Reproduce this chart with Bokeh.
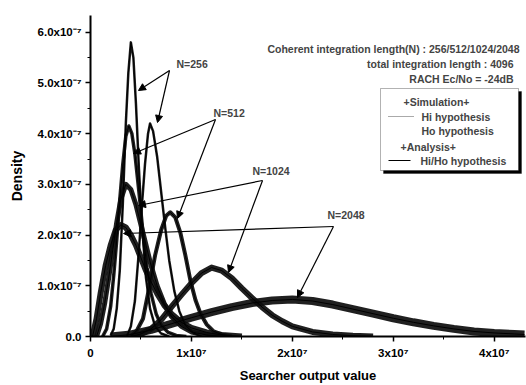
import numpy as np
from bokeh.plotting import figure
from bokeh.models import (Range1d, FixedTicker, CustomJSTickFormatter, Label,
                          Arrow, NormalHead, BoxAnnotation, ColumnDataSource)
from bokeh.embed import file_html
from bokeh.resources import INLINE

# ---------------- data (x in units of 1e6, density in units of 1e-7) ----------------
X_UNIT = 1e6
Y_UNIT = 1e-7

n256_h0_x = [2.0, 2.3, 2.6, 2.9, 3.2, 3.5, 3.75, 4.0, 4.25, 4.5, 4.8, 5.1, 5.5, 5.9, 6.4, 7.0, 7.8]
n256_h0_y = [0.02, 0.15, 0.55, 1.3, 2.6, 4.2, 5.2, 5.8, 5.5, 4.6, 3.3, 2.2, 1.15, 0.55, 0.2, 0.06, 0.0]

n256_h1_x = [3.6, 4.0, 4.4, 4.8, 5.1, 5.4, 5.7, 5.9, 6.2, 6.6, 7.0, 7.4, 7.8, 8.3, 8.8, 9.4, 10.2, 11.0]
n256_h1_y = [0.0, 0.2, 0.7, 1.7, 2.6, 3.4, 4.0, 4.2, 4.05, 3.55, 2.85, 2.15, 1.5, 0.9, 0.5, 0.22, 0.07, 0.0]

n512_h0_x = [1.2, 1.6, 2.0, 2.3, 2.6, 2.9, 3.2, 3.5, 3.8, 4.1, 4.4, 4.8, 5.2, 5.6, 6.0, 6.5, 7.0, 7.7, 8.5, 9.5]
n512_h0_y = [0.0, 0.15, 0.6, 1.2, 1.9, 2.7, 3.4, 3.95, 4.15, 4.0, 3.6, 2.85, 2.05, 1.35, 0.85, 0.45, 0.22, 0.08, 0.02, 0.0]

n512_h1_x = [4.0, 4.6, 5.2, 5.8, 6.4, 7.0, 7.5, 7.9, 8.4, 8.9, 9.4, 9.9, 10.4, 10.9, 11.5, 12.2, 13.0, 14.0]
n512_h1_y = [0.0, 0.12, 0.35, 0.95, 1.6, 2.1, 2.38, 2.45, 2.35, 2.05, 1.6, 1.1, 0.72, 0.45, 0.24, 0.1, 0.04, 0.0]

n1024_h0_x = [0.6, 1.0, 1.4, 1.8, 2.2, 2.6, 3.0, 3.5, 4.0, 4.5, 5.0, 5.5, 6.0, 6.6, 7.3, 8.0, 9.0, 10.0, 11.5, 13.0]
n1024_h0_y = [0.0, 0.25, 0.65, 1.15, 1.7, 2.25, 2.7, 3.0, 2.9, 2.6, 2.2, 1.8, 1.4, 1.0, 0.65, 0.4, 0.2, 0.09, 0.03, 0.0]

n1024_h1_x = [4, 5, 6, 7, 8, 9, 10, 11, 12, 13, 14, 15, 16, 17, 18, 19, 20, 22, 24, 26, 28]
n1024_h1_y = [0.0, 0.05, 0.15, 0.33, 0.58, 0.82, 1.05, 1.25, 1.36, 1.3, 1.15, 0.95, 0.76, 0.58, 0.42, 0.3, 0.2, 0.09, 0.04, 0.015, 0.0]

n2048_h0_x = [0.2, 0.6, 1.0, 1.5, 2.0, 2.5, 3.0, 3.5, 4.0, 4.5, 5.0, 5.5, 6.0, 6.6, 7.3, 8.0, 9.0, 10.0, 11.5, 13.0, 15.0]
n2048_h0_y = [0.0, 0.35, 0.85, 1.4, 1.8, 2.1, 2.2, 2.15, 2.0, 1.8, 1.55, 1.3, 1.08, 0.85, 0.62, 0.45, 0.28, 0.17, 0.08, 0.03, 0.0]

n2048_h1_x = [2, 4, 6, 8, 10, 12, 14, 16, 18, 20, 22, 24, 26, 28, 30, 32, 34, 36, 38, 40, 42, 43]
n2048_h1_y = [0.0, 0.04, 0.13, 0.25, 0.37, 0.48, 0.58, 0.66, 0.71, 0.73, 0.7, 0.63, 0.54, 0.45, 0.36, 0.28, 0.21, 0.15, 0.1, 0.07, 0.05, 0.04]

x_ticks = [0, 1e7, 2e7, 3e7, 4e7]
y_ticks = [0, 1e-7, 2e-7, 3e-7, 4e-7, 5e-7, 6e-7]

n_labels = ["N=256", "N=512", "N=1024", "N=2048"]
info_lines = ["Coherent integration length(N) : 256/512/1024/2048",
              "total integration length : 4096",
              "RACH Ec/No = -24dB"]
legend_texts = ["+Simulation+", "Hi hypothesis", "Ho hypothesis", "+Analysis+", "Hi/Ho hypothesis"]

# ---------------- layout ----------------
W, H = 526, 385
BL, BR, BT, BB = 90, 1, 15, 49
XMAX = 4.31e7
YMAX = 6.33e-7
FONT = "Liberation Sans"


def dx(px):
    return (px - BL) / (W - BL - BR) * XMAX


def dy(py):
    return (H - BB - py) / (H - BT - BB) * YMAX


p = figure(width=W, height=H, output_backend="svg", toolbar_location=None,
           x_range=Range1d(0, XMAX), y_range=Range1d(0, YMAX))
p.min_border_left = BL
p.min_border_right = BR
p.min_border_top = BT
p.min_border_bottom = BB
p.outline_line_color = None
p.grid.visible = False
p.background_fill_color = "white"
p.border_fill_color = "white"

for ax in (p.xaxis[0], p.yaxis[0]):
    ax.axis_line_width = 2
    ax.axis_line_color = "black"
    ax.major_tick_out = 5
    ax.major_tick_in = 0
    ax.minor_tick_out = 3
    ax.minor_tick_in = 0
    ax.major_tick_line_width = 1.5
    ax.major_label_text_font = FONT
    ax.major_label_text_font_style = "bold"
    ax.major_label_text_font_size = "11.5px"
    ax.major_label_text_color = "black"
    ax.axis_label_text_font = FONT
    ax.axis_label_text_font_style = "bold"
    ax.axis_label_text_color = "black"

p.xaxis.ticker = FixedTicker(ticks=x_ticks, minor_ticks=[i * 0.5e7 for i in range(9)])
p.yaxis.ticker = FixedTicker(ticks=y_ticks, minor_ticks=[i * 0.5e-7 for i in range(13)])
p.xaxis.formatter = CustomJSTickFormatter(code=r"""
if (Math.abs(tick) < 1) { return "0"; }
return Math.round(tick / 1e7) + "x10\u2077";
""")
p.yaxis.formatter = CustomJSTickFormatter(code=r"""
if (Math.abs(tick) < 1e-12) { return "0.0"; }
return (tick / 1e-7).toFixed(1) + "x10\u207B\u2077";
""")
p.xaxis.axis_label = "Searcher output value"
p.yaxis.axis_label = "Density"
p.xaxis.axis_label_text_font_size = "13px"
p.yaxis.axis_label_text_font_size = "14px"
p.xaxis.major_label_standoff = 5
p.yaxis.major_label_standoff = 4
p.xaxis.axis_label_standoff = 6
p.yaxis.axis_label_standoff = 10

series = [
    (n256_h0_x, n256_h0_y, 2.5), (n256_h1_x, n256_h1_y, 2.5),
    (n512_h0_x, n512_h0_y, 3.5), (n512_h1_x, n512_h1_y, 4.0),
    (n1024_h0_x, n1024_h0_y, 5.0), (n1024_h1_x, n1024_h1_y, 6.0),
    (n2048_h0_x, n2048_h0_y, 6.0), (n2048_h1_x, n2048_h1_y, 8.0),
]

# simulation (noisy bands)
for xs, ys, w in series:
    src = ColumnDataSource(dict(x=np.array(xs) * X_UNIT, y=np.array(ys) * Y_UNIT))
    p.line("x", "y", source=src, line_color="#0d0d0d", line_width=w, line_alpha=0.92,
           line_join="round")
# analysis (thin solid)
for xs, ys, w in series:
    src = ColumnDataSource(dict(x=np.array(xs) * X_UNIT, y=np.array(ys) * Y_UNIT))
    p.line("x", "y", source=src, line_color="black", line_width=1)

# ---------------- N labels + arrows ----------------
label_pos = [(176, 63), (213, 112), (252, 170), (327, 214)]
arrow_start = [(169, 70), (215, 119), (262, 180), (333, 226)]
arrow_tips = [[(138, 90), (157, 122)], [(133, 153), (177, 218)],
              [(138, 205), (228, 272)], [(123, 233), (297, 297)]]
for txt, (lx, ly), (sx, sy), tips in zip(n_labels, label_pos, arrow_start, arrow_tips):
    p.add_layout(Label(x=dx(lx), y=dy(ly), text=txt, text_font=FONT, text_font_style="bold",
                       text_font_size="10.5px", text_baseline="middle", text_align="left"))
    for tx, ty in tips:
        p.add_layout(Arrow(x_start=dx(sx), y_start=dy(sy), x_end=dx(tx), y_end=dy(ty),
                           line_width=1.2, line_color="black",
                           end=NormalHead(size=7, fill_color="black", line_color="black")))

# ---------------- info text ----------------
info_pos = [(519, 48), (513, 63), (513, 78)]
for txt, (rx, ry) in zip(info_lines, info_pos):
    p.add_layout(Label(x=dx(rx), y=dy(ry), text=txt, text_font=FONT, text_font_style="bold",
                       text_font_size="10.5px", text_baseline="middle", text_align="right"))

# ---------------- legend (manual) ----------------
p.add_layout(BoxAnnotation(left=dx(383), right=dx(521), top=dy(91), bottom=dy(173),
                           fill_color="black", fill_alpha=1, line_color="black"))
p.add_layout(BoxAnnotation(left=dx(380), right=dx(518), top=dy(88), bottom=dy(170),
                           fill_color="white", fill_alpha=1, line_color="black", line_width=1))
legend_pos = [(403, 101), (421, 116), (421, 130), (400, 146), (420, 160)]
for txt, (lx, ly) in zip(legend_texts, legend_pos):
    p.add_layout(Label(x=dx(lx), y=dy(ly), text=txt, text_font=FONT, text_font_style="bold",
                       text_font_size="10.5px", text_baseline="middle", text_align="left"))
p.add_layout(Arrow(x_start=dx(388), y_start=dy(116), x_end=dx(413), y_end=dy(116), end=None,
                   line_color="#555555", line_width=1, line_dash="1 1"))
p.add_layout(Arrow(x_start=dx(388), y_start=dy(160), x_end=dx(410), y_end=dy(160), end=None,
                   line_color="black", line_width=1))

open("out.html", "w").write(file_html(p, INLINE))
